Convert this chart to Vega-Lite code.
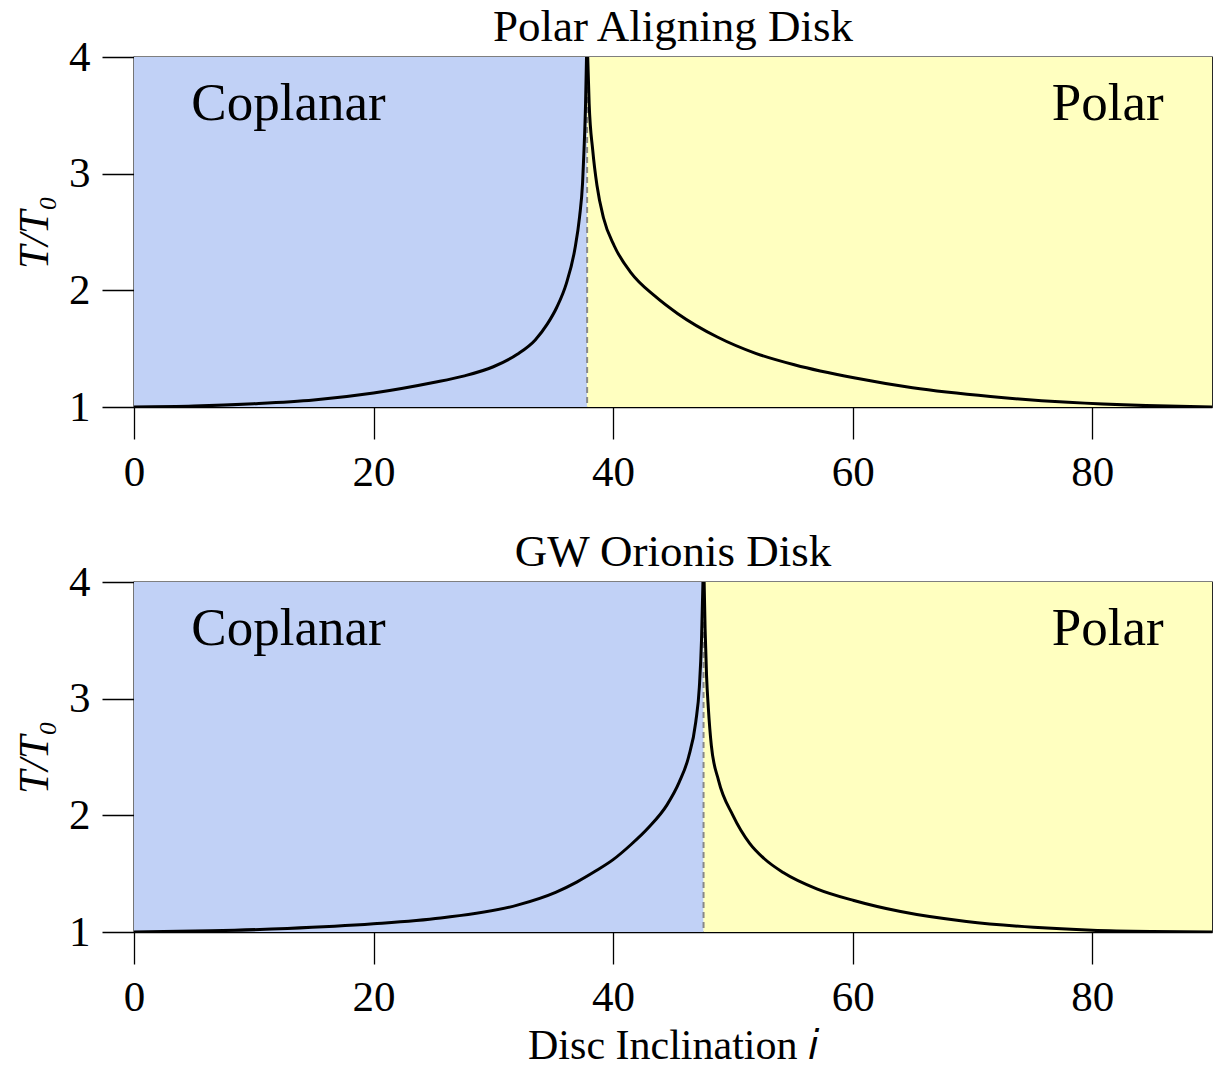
{
  "$schema": "https://vega.github.io/schema/vega-lite/v6.json",
  "background": "white",
  "padding": {"left": 12, "top": 4, "right": 2, "bottom": 2},
  "datasets": {
    "curve": [
      {"p": "top", "b": "L", "x": 0, "v": 1.0},
      {"p": "top", "b": "L", "x": 5, "v": 1.008},
      {"p": "top", "b": "L", "x": 10, "v": 1.028},
      {"p": "top", "b": "L", "x": 15, "v": 1.06},
      {"p": "top", "b": "L", "x": 20, "v": 1.12},
      {"p": "top", "b": "L", "x": 25, "v": 1.21},
      {"p": "top", "b": "L", "x": 27.5, "v": 1.265},
      {"p": "top", "b": "L", "x": 30, "v": 1.345},
      {"p": "top", "b": "L", "x": 32, "v": 1.452},
      {"p": "top", "b": "L", "x": 33.5, "v": 1.575},
      {"p": "top", "b": "L", "x": 34.5, "v": 1.71},
      {"p": "top", "b": "L", "x": 35.3, "v": 1.855},
      {"p": "top", "b": "L", "x": 36.1, "v": 2.06},
      {"p": "top", "b": "L", "x": 36.8, "v": 2.35},
      {"p": "top", "b": "L", "x": 37.2, "v": 2.63},
      {"p": "top", "b": "L", "x": 37.45, "v": 2.92},
      {"p": "top", "b": "L", "x": 37.57, "v": 3.2},
      {"p": "top", "b": "L", "x": 37.7, "v": 3.6},
      {"p": "top", "b": "L", "x": 37.78, "v": 4.0},
      {"p": "top", "b": "R", "x": 37.88, "v": 4.0},
      {"p": "top", "b": "R", "x": 38.0, "v": 3.6},
      {"p": "top", "b": "R", "x": 38.3, "v": 3.2},
      {"p": "top", "b": "R", "x": 38.65, "v": 2.9},
      {"p": "top", "b": "R", "x": 39.2, "v": 2.62},
      {"p": "top", "b": "R", "x": 40.1, "v": 2.38},
      {"p": "top", "b": "R", "x": 41.5, "v": 2.15},
      {"p": "top", "b": "R", "x": 43.5, "v": 1.95},
      {"p": "top", "b": "R", "x": 45.4, "v": 1.8},
      {"p": "top", "b": "R", "x": 48.7, "v": 1.6},
      {"p": "top", "b": "R", "x": 51.9, "v": 1.46},
      {"p": "top", "b": "R", "x": 55.2, "v": 1.36},
      {"p": "top", "b": "R", "x": 60.1, "v": 1.25},
      {"p": "top", "b": "R", "x": 65.0, "v": 1.165},
      {"p": "top", "b": "R", "x": 71.5, "v": 1.09},
      {"p": "top", "b": "R", "x": 78.0, "v": 1.04},
      {"p": "top", "b": "R", "x": 84.5, "v": 1.012},
      {"p": "top", "b": "R", "x": 90, "v": 1.0},
      {"p": "bottom", "b": "L", "x": 0, "v": 1.0},
      {"p": "bottom", "b": "L", "x": 6.4, "v": 1.01},
      {"p": "bottom", "b": "L", "x": 12.8, "v": 1.03},
      {"p": "bottom", "b": "L", "x": 20, "v": 1.07},
      {"p": "bottom", "b": "L", "x": 25.6, "v": 1.12},
      {"p": "bottom", "b": "L", "x": 32.0, "v": 1.23},
      {"p": "bottom", "b": "L", "x": 35.2, "v": 1.34},
      {"p": "bottom", "b": "L", "x": 37.0, "v": 1.43},
      {"p": "bottom", "b": "L", "x": 38.5, "v": 1.52},
      {"p": "bottom", "b": "L", "x": 40.0, "v": 1.62},
      {"p": "bottom", "b": "L", "x": 41.5, "v": 1.75},
      {"p": "bottom", "b": "L", "x": 43.0, "v": 1.9},
      {"p": "bottom", "b": "L", "x": 44.5, "v": 2.09},
      {"p": "bottom", "b": "L", "x": 45.5, "v": 2.28},
      {"p": "bottom", "b": "L", "x": 46.3, "v": 2.5},
      {"p": "bottom", "b": "L", "x": 46.9, "v": 2.8},
      {"p": "bottom", "b": "L", "x": 47.2, "v": 3.1},
      {"p": "bottom", "b": "L", "x": 47.38, "v": 3.5},
      {"p": "bottom", "b": "L", "x": 47.5, "v": 4.0},
      {"p": "bottom", "b": "R", "x": 47.6, "v": 4.0},
      {"p": "bottom", "b": "R", "x": 47.68, "v": 3.6},
      {"p": "bottom", "b": "R", "x": 47.8, "v": 3.2},
      {"p": "bottom", "b": "R", "x": 47.95, "v": 2.92},
      {"p": "bottom", "b": "R", "x": 48.2, "v": 2.6},
      {"p": "bottom", "b": "R", "x": 48.8, "v": 2.3},
      {"p": "bottom", "b": "R", "x": 50.0, "v": 2.0},
      {"p": "bottom", "b": "R", "x": 51.4, "v": 1.76},
      {"p": "bottom", "b": "R", "x": 52.6, "v": 1.63},
      {"p": "bottom", "b": "R", "x": 54.2, "v": 1.51},
      {"p": "bottom", "b": "R", "x": 57.0, "v": 1.37},
      {"p": "bottom", "b": "R", "x": 60.1, "v": 1.27},
      {"p": "bottom", "b": "R", "x": 64.0, "v": 1.175},
      {"p": "bottom", "b": "R", "x": 69.5, "v": 1.09},
      {"p": "bottom", "b": "R", "x": 75.1, "v": 1.04},
      {"p": "bottom", "b": "R", "x": 80, "v": 1.015},
      {"p": "bottom", "b": "R", "x": 85, "v": 1.004},
      {"p": "bottom", "b": "R", "x": 90, "v": 1.0}
    ],
    "regions": [
      {"p": "top", "region": "Coplanar", "x0": 0, "x1": 37.83},
      {"p": "top", "region": "Polar", "x0": 37.83, "x1": 90},
      {"p": "bottom", "region": "Coplanar", "x0": 0, "x1": 47.55},
      {"p": "bottom", "region": "Polar", "x0": 47.55, "x1": 90}
    ],
    "crit": [
      {"p": "top", "xc": 37.83},
      {"p": "bottom", "xc": 47.55}
    ],
    "labels": [
      {"p": "top", "label": "Coplanar", "x": 12.9, "v": 3.46},
      {"p": "top", "label": "Polar", "x": 81.3, "v": 3.46},
      {"p": "bottom", "label": "Coplanar", "x": 12.9, "v": 3.46},
      {"p": "bottom", "label": "Polar", "x": 81.3, "v": 3.46}
    ]
  },
  "spacing": 34,
  "vconcat": [
    {
      "width": 1078,
      "height": 350,
      "title": {"text": "Polar Aligning Disk"},
      "layer": [
        {
          "data": {"name": "regions"},
          "transform": [{"filter": "datum.p === 'top'"}],
          "mark": {"type": "rect"},
          "encoding": {
            "x": {"field": "x0", "type": "quantitative", "scale": {"domain": [0, 90], "nice": false, "zero": false}, "axis": {"values": [0, 20, 40, 60, 80], "format": "d", "title": null}},
            "x2": {"field": "x1"},
            "y": {"datum": 1, "type": "quantitative", "scale": {"domain": [1, 4], "nice": false, "zero": false}, "axis": {"values": [1, 2, 3, 4], "format": "d", "title": "T/T₀", "titleFontStyle": "italic"}},
            "y2": {"datum": 4},
            "color": {"field": "region", "type": "nominal", "scale": {"domain": ["Coplanar", "Polar"], "range": ["#c1d1f6", "#ffffc0"]}, "legend": null}
          }
        },
        {
          "data": {"name": "crit"},
          "transform": [{"filter": "datum.p === 'top'"}],
          "mark": {"type": "rule", "color": "#888888", "strokeWidth": 2, "strokeDash": [6, 4]},
          "encoding": {"x": {"field": "xc", "type": "quantitative"}}
        },
        {
          "data": {"name": "curve"},
          "transform": [{"filter": "datum.p === 'top'"}],
          "mark": {"type": "line", "color": "black", "strokeWidth": 3, "clip": true, "interpolate": "monotone"},
          "encoding": {
            "x": {"field": "x", "type": "quantitative"},
            "y": {"field": "v", "type": "quantitative"},
            "detail": {"field": "b", "type": "nominal"}
          }
        },
        {
          "data": {"name": "labels"},
          "transform": [{"filter": "datum.p === 'top'"}],
          "mark": {"type": "text", "fontSize": 53, "baseline": "alphabetic", "align": "center", "color": "black"},
          "encoding": {
            "x": {"field": "x", "type": "quantitative"},
            "y": {"field": "v", "type": "quantitative"},
            "text": {"field": "label"}
          }
        }
      ]
    },
    {
      "width": 1078,
      "height": 350,
      "title": {"text": "GW Orionis Disk"},
      "layer": [
        {
          "data": {"name": "regions"},
          "transform": [{"filter": "datum.p === 'bottom'"}],
          "mark": {"type": "rect"},
          "encoding": {
            "x": {"field": "x0", "type": "quantitative", "scale": {"domain": [0, 90], "nice": false, "zero": false}, "axis": {"values": [0, 20, 40, 60, 80], "format": "d", "title": "Disc Inclination 𝑖"}},
            "x2": {"field": "x1"},
            "y": {"datum": 1, "type": "quantitative", "scale": {"domain": [1, 4], "nice": false, "zero": false}, "axis": {"values": [1, 2, 3, 4], "format": "d", "title": "T/T₀", "titleFontStyle": "italic"}},
            "y2": {"datum": 4},
            "color": {"field": "region", "type": "nominal", "scale": {"domain": ["Coplanar", "Polar"], "range": ["#c1d1f6", "#ffffc0"]}, "legend": null}
          }
        },
        {
          "data": {"name": "crit"},
          "transform": [{"filter": "datum.p === 'bottom'"}],
          "mark": {"type": "rule", "color": "#888888", "strokeWidth": 2, "strokeDash": [6, 4]},
          "encoding": {"x": {"field": "xc", "type": "quantitative"}}
        },
        {
          "data": {"name": "curve"},
          "transform": [{"filter": "datum.p === 'bottom'"}],
          "mark": {"type": "line", "color": "black", "strokeWidth": 3, "clip": true, "interpolate": "monotone"},
          "encoding": {
            "x": {"field": "x", "type": "quantitative"},
            "y": {"field": "v", "type": "quantitative"},
            "detail": {"field": "b", "type": "nominal"}
          }
        },
        {
          "data": {"name": "labels"},
          "transform": [{"filter": "datum.p === 'bottom'"}],
          "mark": {"type": "text", "fontSize": 53, "baseline": "alphabetic", "align": "center", "color": "black"},
          "encoding": {
            "x": {"field": "x", "type": "quantitative"},
            "y": {"field": "v", "type": "quantitative"},
            "text": {"field": "label"}
          }
        }
      ]
    }
  ],
  "config": {
    "font": "Liberation Serif",
    "view": {"stroke": "black", "strokeWidth": 1.3},
    "axis": {
      "grid": false,
      "domainColor": "black",
      "domainWidth": 1.3,
      "tickColor": "black",
      "tickWidth": 1.3,
      "tickSize": 32,
      "labelFont": "Liberation Serif",
      "labelFontSize": 43,
      "labelColor": "black",
      "labelPadding": 12,
      "labelFlush": false,
      "titleFont": "Liberation Serif",
      "titleFontSize": 42,
      "titleFontWeight": "normal",
      "titleColor": "black"
    },
    "axisX": {"titlePadding": 6},
    "axisY": {"titlePadding": 12},
    "title": {
      "font": "Liberation Serif",
      "fontSize": 45,
      "fontWeight": "normal",
      "color": "black",
      "frame": "group",
      "anchor": "middle",
      "baseline": "bottom",
      "offset": -14
    }
  }
}
